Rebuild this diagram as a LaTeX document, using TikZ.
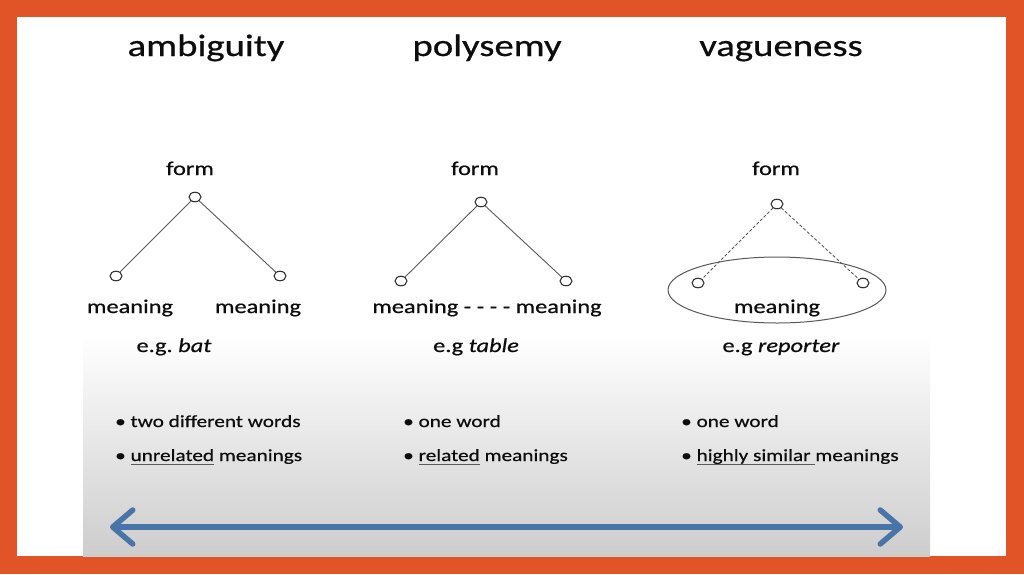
\documentclass[tikz,border=0pt]{standalone}
\usepackage{fontspec}
\setmainfont{Carlito}[FakeStretch=1.25,FakeBold=0.6]
\usetikzlibrary{shapes.geometric,arrows.meta}
\definecolor{frameorange}{RGB}{224,84,40}
\definecolor{arrowblue}{RGB}{72,116,168}
\definecolor{linegray}{RGB}{90,90,90}
\newcommand\myul[1]{\setbox0\hbox{#1}\rlap{\raisebox{-3.5pt}{\color{linegray}\rule{\wd0}{0.9pt}}}\box0\relax}
\frenchspacing
\begin{document}
\begin{tikzpicture}[x=1pt,y=-1pt,
 title/.style={anchor=base,inner sep=0,font=\fontsize{31}{36}\selectfont,text=black!95},
 lbl/.style={anchor=base,inner sep=0,font=\fontsize{19.5}{22}\selectfont,text=black!95},
 bul/.style={anchor=base west,inner sep=0,font=\fontsize{17}{20}\selectfont,text=black!95},
 dot/.style={ellipse,draw=black!80,line width=1.1pt,inner sep=0,minimum width=12pt,minimum height=9.5pt},
 link/.style={draw=linegray,line width=0.9pt},
 dlink/.style={link,densely dashed}]
\useasboundingbox (0,0) rectangle (1024,574);
\fill[frameorange] (0,0) rectangle (1024,574);
\fill[white] (17,17) rectangle (1006,556);
\shade[top color=white,bottom color={rgb,255:red,205;green,205;blue,205}] (83,335) rectangle (930,556);

% titles
\node[title] (t1) at (206,56) {ambiguity};
\node[title] (t2) at (487,56) {polysemy};
\node[title] (t3) at (781,56) {vagueness};

% form labels
\node[lbl] (fl1) at (190,175) {form};
\node[lbl] (fl2) at (475,175) {form};
\node[lbl] (fl3) at (776,175) {form};

% ellipse
\node[ellipse,draw=black!65,line width=1pt,minimum width=218pt,minimum height=66pt] (ell) at (777,290) {};

% circles
\node[dot] (f1) at (195,197) {};
\node[dot] (m1a) at (116,276) {};
\node[dot] (m1b) at (280,276) {};
\node[dot] (f2) at (481,202) {};
\node[dot] (m2a) at (401,281) {};
\node[dot] (m2b) at (566,281) {};
\node[dot] (f3) at (777,204) {};
\node[dot] (m3a) at (698,283) {};
\node[dot] (m3b) at (863,283) {};

\draw[link] (f1) -- (m1a);
\draw[link] (f1) -- (m1b);
\draw[link] (f2) -- (m2a);
\draw[link] (f2) -- (m2b);
\draw[dlink] (f3) -- (m3a);
\draw[dlink] (f3) -- (m3b);

% meaning labels
\node[lbl] (ml1a) at (130,313) {meaning};
\node[lbl] (ml1b) at (258,313) {meaning};
\node[lbl] (ml2) at (487,313) {meaning - - - - meaning};
\node[lbl] (ml3) at (777,313) {meaning};

% examples
\node[lbl] (e1) at (174,352) {e.g. \textit{bat}};
\node[lbl] (e2) at (476,352) {e.g \textit{table}};
\node[lbl] (e3) at (781,352) {e.g \textit{reporter}};

% bullets
\node[bul] (b1a) at (115,427) {\textbullet\ two different words};
\node[bul] (b1b) at (115,461) {\textbullet\ \myul{unrelated} meanings};
\node[bul] (b2a) at (403,427) {\textbullet\ one word};
\node[bul] (b2b) at (403,461) {\textbullet\ \myul{related} meanings};
\node[bul] (b3a) at (681,427) {\textbullet\ one word};
\node[bul] (b3b) at (681,461) {\textbullet\ \myul{highly similar }meanings};

% arrow
\coordinate (aL) at (110,527);
\coordinate (aR) at (903,527);
\draw[arrowblue,line width=5.5pt,line cap=round,
  {Straight Barb[length=20pt,width=34pt,line cap=round,line join=round]}-{Straight Barb[length=20pt,width=34pt,line cap=round,line join=round]}]
  (aL) -- (aR);
\end{tikzpicture}
\end{document}
